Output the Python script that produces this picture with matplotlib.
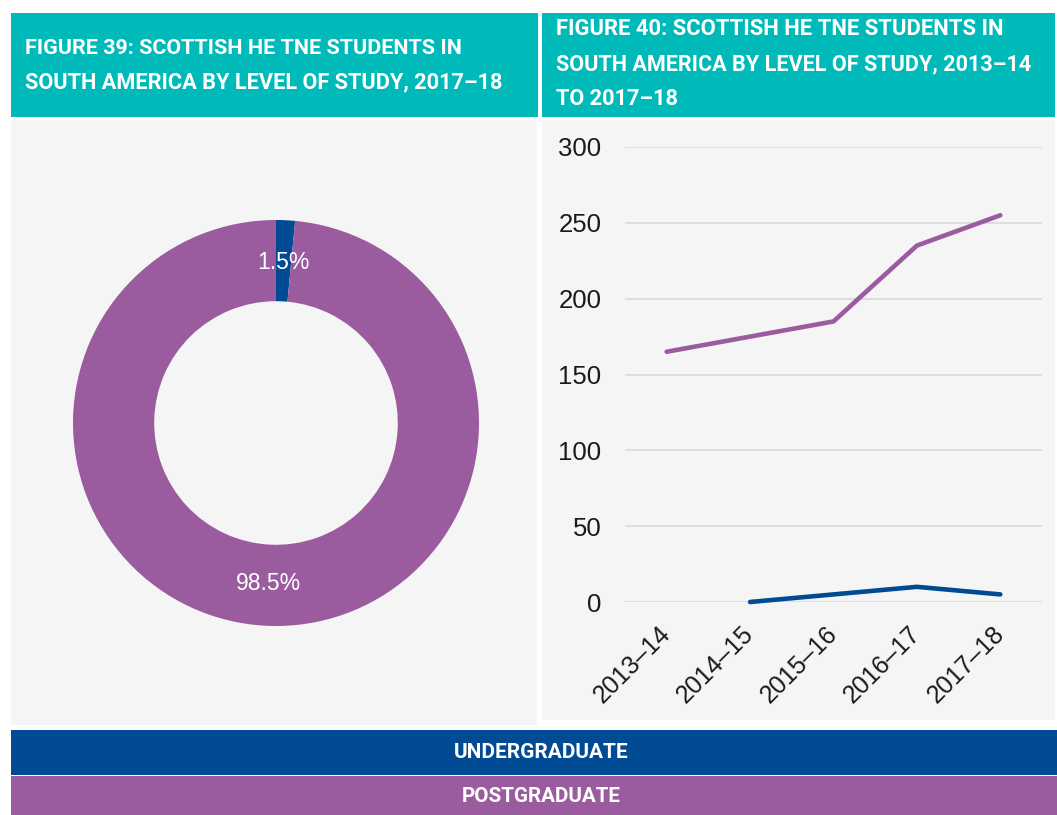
import matplotlib
matplotlib.use("Agg")
import matplotlib.pyplot as plt
from matplotlib.patches import Rectangle

# level of study shares, 2017-18
levels = ["Undergraduate", "Postgraduate"]
shares = [1.5, 98.5]

# student counts by year
years = ["2013\u201314", "2014\u201315", "2015\u201316", "2016\u201317", "2017\u201318"]
undergrad = [None, 0, 5, 10, 5]
postgrad = [165, 175, 185, 235, 255]

TEAL = "#00BABA"
BLUE = "#004B93"
PURPLE = "#9B5B9F"
PANEL = "#F5F5F5"
W, H = 1057, 815

head_font = ["Roboto", "DejaVu Sans"]
body_font = ["Liberation Sans", "DejaVu Sans"]

fig = plt.figure(figsize=(W / 100, H / 100), dpi=100, facecolor="white")
renderer = fig.canvas.get_renderer()


def rect(x0, y0, x1, y1):
    # pixel box (top-left origin) -> figure fraction
    return [x0 / W, 1 - y1 / H, (x1 - x0) / W, (y1 - y0) / H]


def add_box(x0, y0, x1, y1, color):
    l, b, w, h = rect(x0, y0, x1, y1)
    fig.patches.append(Rectangle((l, b), w, h, transform=fig.transFigure,
                                 facecolor=color, edgecolor="none", zorder=-5))


def ftext(x, y, s, width=None, **kw):
    t = fig.text(x / W, 1 - y / H, s, **kw)
    if width:
        # squeeze the heading font down until the line fits its box
        w = t.get_window_extent(renderer).width
        t.set_fontsize(t.get_fontsize() * min(1.0, width / w))
    return t


# header boxes and panels
add_box(11, 13, 538, 117, TEAL)
add_box(542, 13, 1055, 117, TEAL)
add_box(11, 120, 537, 725, PANEL)
add_box(542, 120, 1055, 720, PANEL)
add_box(11, 730, 1057, 775, BLUE)
add_box(11, 776, 1057, 815, PURPLE)

hkw = dict(color="white", fontsize=17, fontweight="bold", family=head_font,
           va="center", ha="left")
for i, line in enumerate(["FIGURE 39: SCOTTISH HE TNE STUDENTS IN",
                          "SOUTH AMERICA BY LEVEL OF STUDY, 2017\u201318"]):
    ftext(25, 48 + i * 34, line, width=[437, 478][i], **hkw)
for i, line in enumerate(["FIGURE 40: SCOTTISH HE TNE STUDENTS IN",
                          "SOUTH AMERICA BY LEVEL OF STUDY, 2013\u201314",
                          "TO 2017\u201318"]):
    ftext(556, 29 + i * 35, line, width=[449, 476, 123][i], **hkw)

lkw = dict(color="white", fontsize=15, fontweight="bold", family=head_font,
           va="center", ha="center")
ftext(541, 752, levels[0].upper(), width=182, **lkw)
ftext(541, 797, levels[1].upper(), width=160, **lkw)

# doughnut
ax1 = fig.add_axes(rect(73, 220, 479, 626))
ax1.set_facecolor("none")
wedges, _, pcts = ax1.pie(shares, colors=[BLUE, PURPLE], startangle=90,
                          counterclock=False, radius=1.0,
                          autopct="%.1f%%", pctdistance=0.79,
                          wedgeprops=dict(width=0.4, edgecolor="none"))
for t in pcts:
    t.set_color("white")
    t.set_fontsize(16.5)
    t.set_family(body_font)
ax1.set_xlim(-1, 1)
ax1.set_ylim(-1, 1)
ax1.set_aspect("equal")
ax1.axis("off")

# line chart
ax2 = fig.add_axes(rect(625, 147, 1042, 602))
ax2.set_facecolor("none")
x = list(range(len(years)))
ug_x = [i for i, v in zip(x, undergrad) if v is not None]
ug_y = [v for v in undergrad if v is not None]
ax2.plot(x, postgrad, color=PURPLE, lw=3.3, solid_capstyle="round", clip_on=False)
ax2.plot(ug_x, ug_y, color=BLUE, lw=3.3, solid_capstyle="round", clip_on=False)
ax2.set_xlim(-0.5, 4.5)
ax2.set_ylim(0, 300)
ax2.set_yticks(range(0, 301, 50))
ax2.set_xticks(x)
ax2.set_xticklabels(years, rotation=45, ha="right", va="center",
                    rotation_mode="anchor", family=body_font, fontsize=18,
                    color="#1A1A1A")
for lab in ax2.get_yticklabels():
    lab.set_family(body_font)
    lab.set_fontsize(18.5)
    lab.set_color("#1A1A1A")
ax2.tick_params(length=0, pad=17, axis="y")
ax2.tick_params(length=0, pad=20, axis="x")
ax2.grid(axis="y", color="#D9D9D9", lw=1.2)
ax2.set_axisbelow(True)
for s in ax2.spines.values():
    s.set_visible(False)

fig.savefig("out.png", dpi=100, facecolor="white")
